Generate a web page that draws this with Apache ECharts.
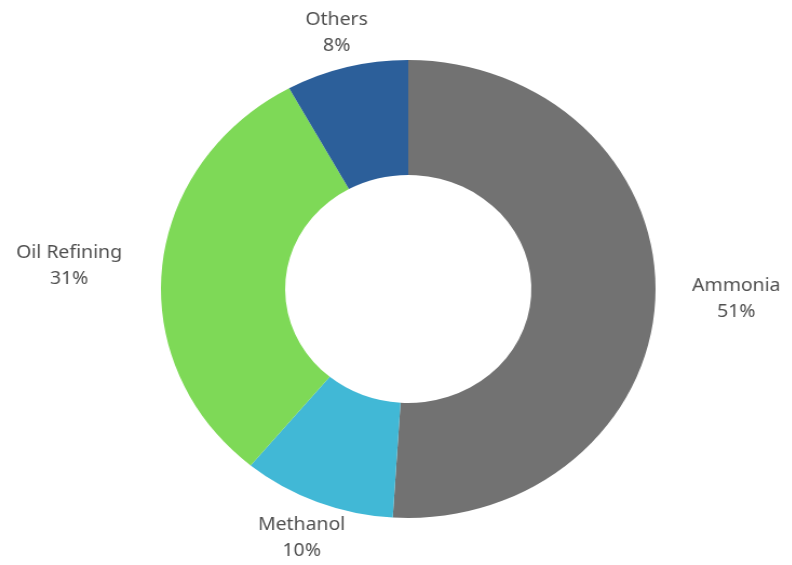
<!DOCTYPE html>
<html>
<head>
	<meta charset="UTF-8">
	<title>Hydrogen use</title>
	<style>
		html, body { margin: 0; padding: 0; background: #fff; overflow: hidden; }
		/* the reference is stretched a little wider than tall */
		#main { width: 733px; height: 565px; transform: scaleX(1.08); transform-origin: 0 0; }
	</style>
</head>
<body>
<div id="main"></div>
<script src="https://cdn.jsdelivr.net/npm/echarts@6/dist/echarts.min.js"></script>
<script>
    var categories = ['Ammonia', 'Methanol', 'Oil Refining', 'Others'];
    var shares = [51, 10, 31, 8];
    var colors = ['#727272', '#41b8d6', '#7ed957', '#2c5f9a'];

    var center = [378, 289];
    var radii = [114, 229];

    var total = shares.reduce(function (a, b) { return a + b; }, 0);

    // middle angle of each slice, clockwise from the top
    function midAngle(i) {
        var before = 0;
        for (var k = 0; k < i; k++) before += shares[k];
        return (before + shares[i] / 2) / total * Math.PI * 2;
    }

    var myChart = echarts.init(document.getElementById('main'));
    var option = {
        animation: false,
        color: colors,
        series: [{
            type: 'pie',
            center: center,
            radius: radii,
            startAngle: 90,
            clockwise: true,
            data: categories.map(function (name, i) {
                return { name: name, value: shares[i] };
            }),
            label: {
                show: true,
                position: 'outside',
                formatter: function (p) { return p.name + '\n' + p.value + '%'; },
                fontFamily: 'Noto Sans',
                fontSize: 18,
                lineHeight: 26,
                color: '#505050',
                overflow: 'none'
            },
            labelLine: { show: false },
            labelLayout: function (params) {
                var a = midAngle(params.dataIndex);
                var s = Math.sin(a), c = Math.cos(a);
                var r = 266;
                var side = Math.pow(Math.abs(s), 4);
                var push = s < 0 ? (params.labelRect.width / 2 + 1) * side
                                 : (params.labelRect.width / 2 - 3) * side;
                return {
                    x: center[0] + r * s + (s < 0 ? -push : push),
                    y: center[1] - r * c + 2,
                    align: 'center',
                    verticalAlign: 'middle'
                };
            },
            emphasis: { disabled: true }
        }]
    };
    myChart.setOption(option);
</script>
</body>
</html>
